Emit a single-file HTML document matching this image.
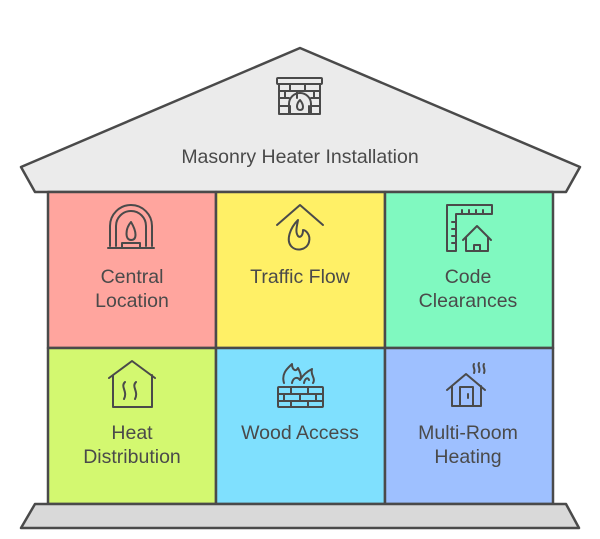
<!DOCTYPE html>
<html><head><style>body{margin:0;background:#fff}svg{display:block}</style></head><body>
<svg width="600" height="539" viewBox="0 0 600 539" xmlns="http://www.w3.org/2000/svg" font-family="Liberation Sans, sans-serif" font-size="19.5" fill="#4a4a4a">
<g stroke="#4a4a4a" stroke-width="2.5" stroke-linejoin="round">
<polygon points="300,48 580,167 566,192 35,192 21,167" fill="#ebebeb"/>
<rect x="48" y="192" width="168" height="156" fill="#ffa59e"/>
<rect x="216" y="192" width="169" height="156" fill="#fff066"/>
<rect x="385" y="192" width="168" height="156" fill="#80f9c0"/>
<rect x="48" y="348" width="168" height="156" fill="#d3f870"/>
<rect x="216" y="348" width="169" height="156" fill="#7fe0fe"/>
<rect x="385" y="348" width="168" height="156" fill="#9ec0ff"/>
<polygon points="35,504 566,504 579,528 21,528" fill="#d9d9d9"/>
</g>
<g fill="none" stroke="#4a4a4a" stroke-width="2" stroke-linecap="round" stroke-linejoin="round">
<rect x="277" y="78" width="45" height="6" rx="1"/>
<path d="M279,84 V114 H320 V84 M279,91 H320 M279,98 H289 M311,98 H320 M279,106 H288 M312,106 H320 M290,84 V91 M305,84 V91 M285,91 V98 M297,91 V98 M314,91 V98 M290,106 V114 M309,106 V114"/>
<path d="M289,114 V104 A11,11 0 0 1 311,104 V114"/>
<path d="M300,100 C296,104 296,110 300,110 C304,110 304,105 300,100Z"/>
<path d="M110,246 V226 A21,21 0 0 1 152,226 V246 M116,246 V226 A15,15 0 0 1 146,226 V246 M108,248 H154 M122,248 V243 H140 V248"/>
<path d="M131,222 C125,229 125,240 131,240 C137,240 137,232 131,222Z"/>
<path d="M277,225 L300,205 L323,225"/>
<path d="M298,220 C290,228 286,240 291,246 C296,252 307,250 309,242 C311,234 305,230 303,230 C303,236 300,238 298,236 C295,232 297,226 298,220Z"/>
<path d="M447,251 V205 H492 V214 H456 V251 Z M462,214 V210 M469,214 V210 M476,214 V210 M483,214 V210 M456,222 H452 M456,229 H452 M456,236 H452 M456,243 H452"/>
<path d="M463,240 L477,226 L491,240 M466,237 V251 H488 V237 M474,251 V245 H480 V251"/>
<path d="M109,378 L132,361 L155,378 M113,375 V407 H152 V375"/>
<path d="M125,382 C120,387 128,391 124,399 M136,382 C131,387 139,391 135,399"/>
<rect x="278" y="387" width="45" height="20" rx="1"/>
<path d="M278,394 H323 M278,401 H323 M291,387 V394 M308,387 V394 M284,394 V401 M300,394 V401 M316,394 V401 M291,401 V407 M308,401 V407"/>
<path d="M284,383 C281,373 288,368 292,364 C292,370 296,372 298,368 C300,372 302,376 300,380 C303,375 308,371 312,369 C310,375 316,378 313,383 M292,383 C293,378 297,376 300,380 M304,383 C305,378 308,377 309,380"/>
<path d="M447,390 L466,374 L485,390 M452,386 V406 H481 V386 M460,406 V387 H473 V406 M468,394 V398"/>
<path d="M474,364 C472,367 476,369 474,373 M479,363 C477,366 481,368 479,372 M484,364 C482,367 486,369 484,373"/>
</g>
<g text-anchor="middle">
<text x="300" y="163">Masonry Heater Installation</text>
<text x="132" y="283">Central</text><text x="132" y="307">Location</text>
<text x="300" y="283">Traffic Flow</text>
<text x="468" y="283">Code</text><text x="468" y="307">Clearances</text>
<text x="132" y="439">Heat</text><text x="132" y="463">Distribution</text>
<text x="300" y="439">Wood Access</text>
<text x="468" y="439">Multi-Room</text><text x="468" y="463">Heating</text>
</g>
</svg>
</body></html>
